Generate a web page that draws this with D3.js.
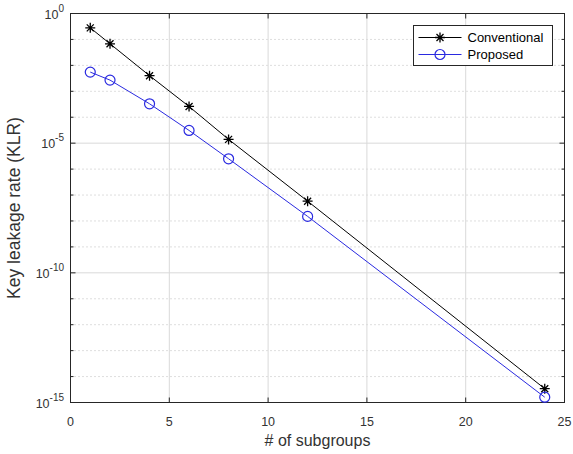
<!DOCTYPE html>
<html>
<head>
<meta charset="utf-8">
<script src="https://cdn.jsdelivr.net/npm/d3@7"></script>
<style>
  body { margin: 0; background: #fff; }
  svg { font-family: Arial, "Liberation Sans", sans-serif; }
</style>
</head>
<body>
<svg id="chart" width="573" height="454"></svg>
<script>
// subgroup counts
const subgroups = [1, 2, 4, 6, 8, 12, 24]
// KLR per scheme
const conventional = [2.8e-1, 6.8e-2, 4.0e-3, 2.6e-4, 1.4e-5, 5.8e-8, 3.4e-15]
const proposed = [5.5e-3, 2.7e-3, 3.3e-4, 3.1e-5, 2.5e-6, 1.5e-8, 1.6e-15]

const xTicks = [0, 5, 10, 15, 20, 25]
const yMajorExp = [0, -5, -10, -15]
const yMinorExp = d3.range(-15, 1)

const seriesNames = ['Conventional', 'Proposed']
const seriesColours = ['#000000', '#2a2ae0']

const svg = d3.select('#chart')
const pLeft = 70.5, pRight = 564.5, pTop = 13.5, pBottom = 402.5

const x = d3.scaleLinear().domain([0, 25]).range([pLeft, pRight])
const y = d3.scaleLog().domain([1e-15, 1]).range([pBottom, pTop])

const axisCol = '#262626'
const textCol = '#333333'
const gridCol = '#d9d9d9'

// minor grid (dotted) at every decade
svg.append('g').selectAll('line')
  .data(yMinorExp.filter(e => !yMajorExp.includes(e)))
  .enter().append('line')
    .attr('x1', pLeft).attr('x2', pRight)
    .attr('y1', e => y(Math.pow(10, e))).attr('y2', e => y(Math.pow(10, e)))
    .attr('stroke', '#bdbdbd')
    .attr('stroke-dasharray', '1,3')

// major grid
svg.append('g').selectAll('line')
  .data(yMajorExp.slice(1, -1))
  .enter().append('line')
    .attr('x1', pLeft).attr('x2', pRight)
    .attr('y1', e => y(Math.pow(10, e))).attr('y2', e => y(Math.pow(10, e)))
    .attr('stroke', gridCol)

svg.append('g').selectAll('line')
  .data(xTicks.slice(1, -1))
  .enter().append('line')
    .attr('x1', d => x(d)).attr('x2', d => x(d))
    .attr('y1', pTop).attr('y2', pBottom)
    .attr('stroke', gridCol)

// box
svg.append('rect')
  .attr('x', pLeft).attr('y', pTop)
  .attr('width', pRight - pLeft).attr('height', pBottom - pTop)
  .attr('fill', 'none').attr('stroke', axisCol)

// ticks (inward, on all four sides)
const tk = svg.append('g').attr('stroke', axisCol)
xTicks.forEach(d => {
  tk.append('line').attr('x1', x(d)).attr('x2', x(d)).attr('y1', pBottom).attr('y2', pBottom - 5)
  tk.append('line').attr('x1', x(d)).attr('x2', x(d)).attr('y1', pTop).attr('y2', pTop + 5)
})
yMinorExp.forEach(e => {
  const len = yMajorExp.includes(e) ? 5 : 3
  const yy = y(Math.pow(10, e))
  tk.append('line').attr('x1', pLeft).attr('x2', pLeft + len).attr('y1', yy).attr('y2', yy)
  tk.append('line').attr('x1', pRight).attr('x2', pRight - len).attr('y1', yy).attr('y2', yy)
})

// tick labels
svg.append('g').selectAll('text')
  .data(xTicks)
  .enter().append('text')
    .attr('x', d => x(d)).attr('y', 426)
    .attr('text-anchor', 'middle')
    .attr('font-size', 12.5)
    .attr('fill', textCol)
    .text(d => d)

const yl = svg.append('g').selectAll('text')
  .data(yMajorExp)
  .enter().append('text')
    .attr('x', 64).attr('y', e => y(Math.pow(10, e)) + 5)
    .attr('text-anchor', 'end')
    .attr('font-size', 12.5)
    .attr('fill', textCol)
yl.append('tspan').text('10')
yl.append('tspan').attr('dy', -7).attr('font-size', 10).text(e => e)

// axis labels
svg.append('text')
  .attr('x', (pLeft + pRight) / 2).attr('y', 446)
  .attr('text-anchor', 'middle')
  .attr('font-size', 16)
  .attr('fill', textCol)
  .text('# of subgroups')

svg.append('text')
  .attr('transform', `translate(20,${(pTop + pBottom) / 2}) rotate(-90)`)
  .attr('text-anchor', 'middle')
  .attr('font-size', 17.5)
  .attr('fill', textCol)
  .text('Key leakage rate (KLR)')

// series
const line = d3.line().x(d => x(d[0])).y(d => y(d[1]))
const allSeries = [conventional, proposed]

function star (g, colour) {
  g.append('path')
    .attr('d', 'M-5,0H5M0,-5V5M-3.5,-3.5L3.5,3.5M-3.5,3.5L3.5,-3.5')
    .attr('stroke', colour).attr('stroke-width', 1.3).attr('fill', 'none')
}
function ring (g, colour) {
  g.append('circle').attr('r', 5)
    .attr('stroke', colour).attr('stroke-width', 1.2).attr('fill', 'none')
}
const markers = [star, ring]

allSeries.forEach((vals, i) => {
  const pts = subgroups.map((s, j) => [s, vals[j]])
  svg.append('path')
    .datum(pts)
    .attr('d', line)
    .attr('fill', 'none')
    .attr('stroke', seriesColours[i])
    .attr('stroke-width', 1)
  svg.append('g').selectAll('g')
    .data(pts)
    .enter().append('g')
      .attr('transform', d => `translate(${x(d[0])},${y(d[1])})`)
      .each(function () { markers[i](d3.select(this), seriesColours[i]) })
})

// legend
const lg = svg.append('g').attr('transform', 'translate(413.5,25.5)')
lg.append('rect').attr('width', 139).attr('height', 40)
  .attr('fill', '#fff').attr('stroke', axisCol)
seriesNames.forEach((name, i) => {
  const row = lg.append('g').attr('transform', `translate(0,${12 + i * 17})`)
  row.append('line').attr('x1', 5).attr('x2', 48)
    .attr('stroke', seriesColours[i])
  markers[i](row.append('g').attr('transform', 'translate(26.5,0)'), seriesColours[i])
  row.append('text').attr('x', 54).attr('y', 4.5)
    .attr('font-size', 13)
    .attr('fill', '#000')
    .text(name)
})
</script>
</body>
</html>
